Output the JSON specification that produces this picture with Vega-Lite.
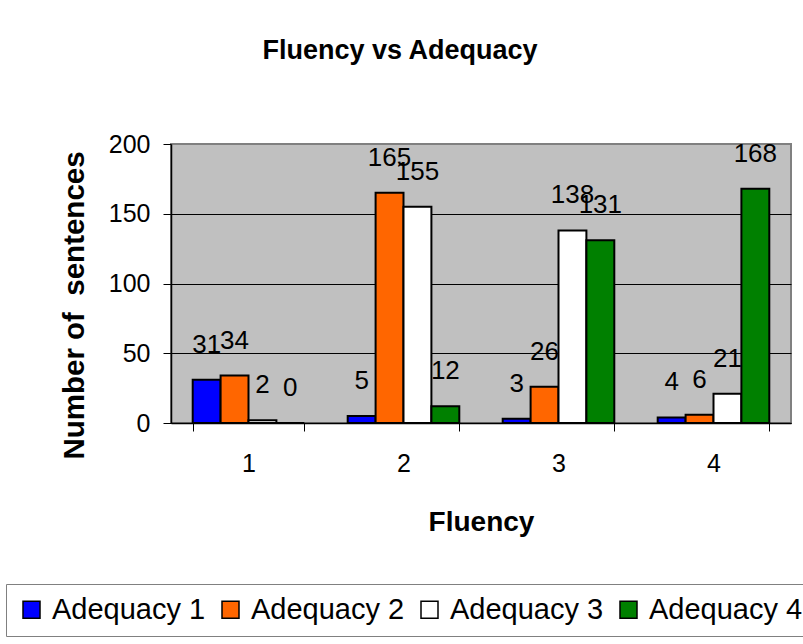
{
  "$schema": "https://vega.github.io/schema/vega-lite/v6.json",
  "width": 620,
  "height": 279,
  "autosize": {"type": "none"},
  "padding": {"left": 171, "top": 144, "right": 12, "bottom": 221},
  "background": "white",
  "title": {
    "text": "Fluency vs Adequacy",
    "font": "Liberation Sans",
    "fontSize": 27,
    "fontWeight": "bold",
    "color": "black",
    "baseline": "alphabetic",
    "anchor": "middle",
    "frame": "group",
    "dx": -81,
    "offset": 46
  },
  "data": {
    "values": [
      {"fluency": "1", "adequacy": "Adequacy 1", "count": 31},
      {"fluency": "1", "adequacy": "Adequacy 2", "count": 34},
      {"fluency": "1", "adequacy": "Adequacy 3", "count": 2},
      {"fluency": "1", "adequacy": "Adequacy 4", "count": 0},
      {"fluency": "2", "adequacy": "Adequacy 1", "count": 5},
      {"fluency": "2", "adequacy": "Adequacy 2", "count": 165},
      {"fluency": "2", "adequacy": "Adequacy 3", "count": 155},
      {"fluency": "2", "adequacy": "Adequacy 4", "count": 12},
      {"fluency": "3", "adequacy": "Adequacy 1", "count": 3},
      {"fluency": "3", "adequacy": "Adequacy 2", "count": 26},
      {"fluency": "3", "adequacy": "Adequacy 3", "count": 138},
      {"fluency": "3", "adequacy": "Adequacy 4", "count": 131},
      {"fluency": "4", "adequacy": "Adequacy 1", "count": 4},
      {"fluency": "4", "adequacy": "Adequacy 2", "count": 6},
      {"fluency": "4", "adequacy": "Adequacy 3", "count": 21},
      {"fluency": "4", "adequacy": "Adequacy 4", "count": 168}
    ]
  },
  "encoding": {
    "x": {
      "field": "fluency",
      "type": "nominal",
      "scale": {"paddingInner": 0.28, "paddingOuter": 0.14},
      "axis": {
        "title": "Fluency",
        "labelAngle": 0,
        "labelFont": "Liberation Sans",
        "labelFontSize": 25,
        "labelColor": "black",
        "labelBaseline": "alphabetic",
        "labelPadding": 40,
        "tickBand": "extent",
        "tickSize": 8,
        "tickColor": "black",
        "tickWidth": 1,
        "domainColor": "black",
        "domainWidth": 1.5,
        "titleFont": "Liberation Sans",
        "titleFontSize": 28,
        "titleFontWeight": "bold",
        "titleColor": "black",
        "titleBaseline": "alphabetic",
        "titleY": 107
      }
    },
    "xOffset": {
      "field": "adequacy",
      "type": "nominal",
      "scale": {"paddingInner": 0, "paddingOuter": 0}
    },
    "y": {
      "field": "count",
      "type": "quantitative",
      "scale": {"domain": [0, 200], "nice": false},
      "axis": {
        "title": "Number of \u00a0sentences",
        "values": [0, 50, 100, 150, 200],
        "labelFont": "Liberation Sans",
        "labelFontSize": 25,
        "labelColor": "black",
        "labelPadding": 13,
        "tickSize": 8,
        "tickColor": "black",
        "tickWidth": 1,
        "domainColor": "black",
        "domainWidth": 1.5,
        "grid": true,
        "gridColor": {"condition": {"test": "datum.value === 200", "value": "#808080"}, "value": "black"},
        "gridWidth": 1,
        "titleFont": "Liberation Sans",
        "titleFontSize": 29.5,
        "titleFontWeight": "bold",
        "titleColor": "black",
        "titleBaseline": "alphabetic",
        "titleAngle": -90,
        "titleAlign": "center",
        "titleX": -88,
        "titleY": 161
      }
    }
  },
  "layer": [
    {
      "mark": {"type": "bar", "stroke": "black", "strokeWidth": 2},
      "encoding": {
        "fill": {
          "field": "adequacy",
          "type": "nominal",
          "scale": {
            "domain": ["Adequacy 1", "Adequacy 2", "Adequacy 3", "Adequacy 4"],
            "range": ["#0000FF", "#FF6600", "#FFFFFF", "#008000"]
          },
          "legend": {
            "title": null,
            "orient": "none",
            "legendX": -165,
            "legendY": 440,
            "direction": "horizontal",
            "columns": 4,
            "columnPadding": 10,
            "labelOffset": 6,
            "padding": 11,
            "strokeColor": "#808080",
            "symbolType": "square",
            "symbolSize": 289,
            "symbolStrokeColor": "black",
            "symbolStrokeWidth": 1.5,
            "symbolOpacity": 1,
            "labelFont": "Liberation Sans",
            "labelFontSize": 29,
            "labelColor": "black",
            "labelLimit": 400
          }
        }
      }
    },
    {
      "mark": {
        "type": "text",
        "baseline": "alphabetic",
        "align": "center",
        "dy": -27,
        "font": "Liberation Sans",
        "fontSize": 26,
        "color": "black"
      },
      "encoding": {
        "text": {"field": "count", "type": "quantitative"}
      }
    }
  ],
  "config": {
    "font": "Liberation Sans",
    "view": {"fill": "#C0C0C0", "stroke": "#808080", "strokeWidth": 2}
  }
}
